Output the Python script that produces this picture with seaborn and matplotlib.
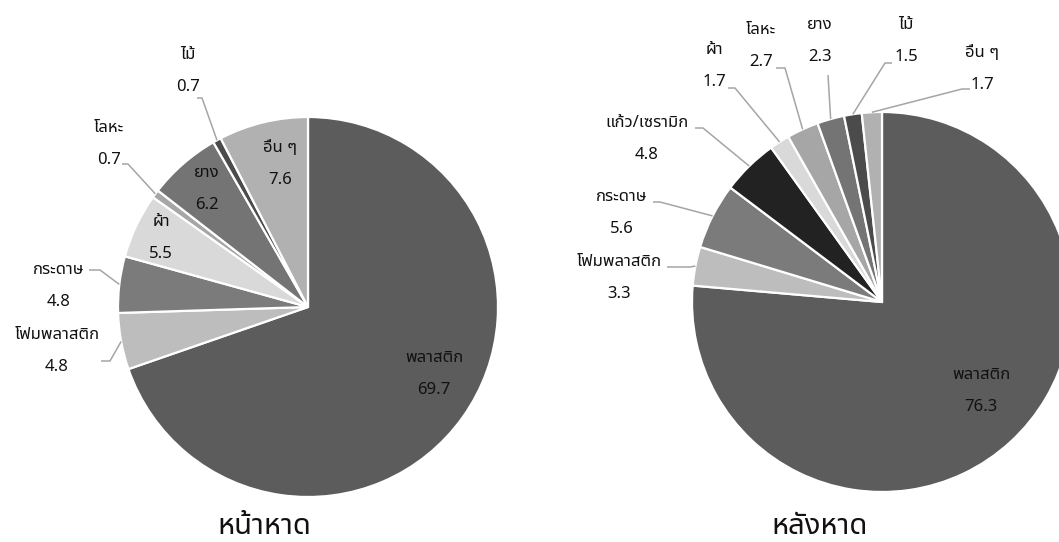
import matplotlib
matplotlib.use("Agg")
import matplotlib.pyplot as plt
from matplotlib import font_manager
from matplotlib.ft2font import FT2Font
import numpy as np
import seaborn as sns

# ---- data -------------------------------------------------------------
front_labels = ["พลาสติก", "โฟมพลาสติก", "กระดาษ", "ผ้า", "โลหะ", "ยาง", "ไม้", "อื่น ๆ"]
front_values = [69.7, 4.8, 4.8, 5.5, 0.7, 6.2, 0.7, 7.6]

back_labels = ["พลาสติก", "โฟมพลาสติก", "กระดาษ", "แก้ว/เซรามิก", "ผ้า", "โลหะ", "ยาง", "ไม้", "อื่น ๆ"]
back_values = [76.3, 3.3, 5.6, 4.8, 1.7, 2.7, 2.3, 1.5, 1.7]

titles = ["หน้าหาด", "หลังหาด"]

# grey shade for each category
shades = {
    "พลาสติก": "#5c5c5c",
    "โฟมพลาสติก": "#bdbdbd",
    "กระดาษ": "#7b7b7b",
    "แก้ว/เซรามิก": "#222222",
    "ผ้า": "#d9d9d9",
    "โลหะ": "#a6a6a6",
    "ยาง": "#747474",
    "ไม้": "#4b4b4b",
    "อื่น ๆ": "#b1b1b1",
}

# ---- page geometry (pixels, y measured from the top) -------------------
W, H = 1059, 542
RADIUS = 190
front_center = (308, 307)
back_center = (882, 302)

# label placement: (x, y of category line, leader-line anchor or None)
front_layout = {
    "พลาสติก": (434, 358, None),
    "โฟมพลาสติก": (57, 335, [(101, 361), (110, 361)]),
    "กระดาษ": (59, 270, [(89, 270), (100, 270)]),
    "ผ้า": (161, 222, None),
    "โลหะ": (109, 128, [(122, 164), (128, 164)]),
    "ยาง": (207, 173, None),
    "ไม้": (188, 55, [(197, 98), (202, 98)]),
    "อื่น ๆ": (280, 148, None),
}
back_layout = {
    "พลาสติก": (981, 375, None),
    "โฟมพลาสติก": (619, 262, [(667, 267), (690, 267)]),
    "กระดาษ": (622, 197, [(653, 202), (660, 202)]),
    "แก้ว/เซรามิก": (647, 123, [(695, 128), (703, 128)]),
    "ผ้า": (714, 50, [(728, 88), (735, 88)]),
    "โลหะ": (761, 30, [(776, 68), (785, 68)]),
    "ยาง": (820, 25, [(828, 75)]),
    "ไม้": (906, 25, [(892, 63), (885, 63)]),
    "อื่น ๆ": (982, 53, [(970, 89), (962, 89)]),
}
LINE_GAP = 32

sns.set_theme(style="white")


def family_with(char, preferred=("Tahoma", "Leelawadee", "Noto Sans Thai", "Loma", "Garuda")):
    found = []
    for entry in font_manager.fontManager.ttflist:
        try:
            if ord(char) in FT2Font(entry.fname).get_charmap():
                found.append(entry.name)
        except Exception:
            continue
    for name in preferred:
        if name in found:
            return name
    return found[0] if found else None


thai = family_with("ก")
families = ([thai] if thai else []) + ["DejaVu Sans"]
plt.rcParams["font.family"] = families

fig = plt.figure(figsize=(W / 100, H / 100), dpi=100)
ax = fig.add_axes([0, 0, 1, 1])


def flip(p):
    return (p[0], H - p[1])


def draw_pie(labels, values, center, layout, title):
    cx, cy = flip(center)
    wedges, _ = ax.pie(
        values,
        colors=[shades[k] for k in labels],
        startangle=90,
        counterclock=False,
        center=(cx, cy),
        radius=RADIUS,
        wedgeprops=dict(edgecolor="white", linewidth=1.6),
    )
    for w, lab, val in zip(wedges, labels, values):
        x, y, leader = layout[lab]
        X, Y = flip((x, y))
        ax.text(X, Y, lab, ha="center", va="center", fontsize=12, color="#111111")
        ax.text(X, Y - LINE_GAP, f"{val:.1f}", ha="center", va="center",
                fontsize=12, color="#111111")
        if leader:
            mid = np.deg2rad((w.theta1 + w.theta2) / 2)
            end = (cx + RADIUS * np.cos(mid), cy + RADIUS * np.sin(mid))
            pts = [flip(p) for p in leader] + [end]
            xs, ys = zip(*pts)
            ax.plot(xs, ys, color="#a5a5a5", lw=1.1, solid_capstyle="butt")
    ax.text(cx - 44 if center[0] < 500 else cx - 62, H - 527, title,
            ha="center", va="center", fontsize=21, color="#111111")


draw_pie(front_labels, front_values, front_center, front_layout, titles[0])
draw_pie(back_labels, back_values, back_center, back_layout, titles[1])

ax.set_xlim(0, W)
ax.set_ylim(0, H)
ax.set_aspect("equal")
ax.axis("off")

fig.savefig("out.png", dpi=100, facecolor="white")
